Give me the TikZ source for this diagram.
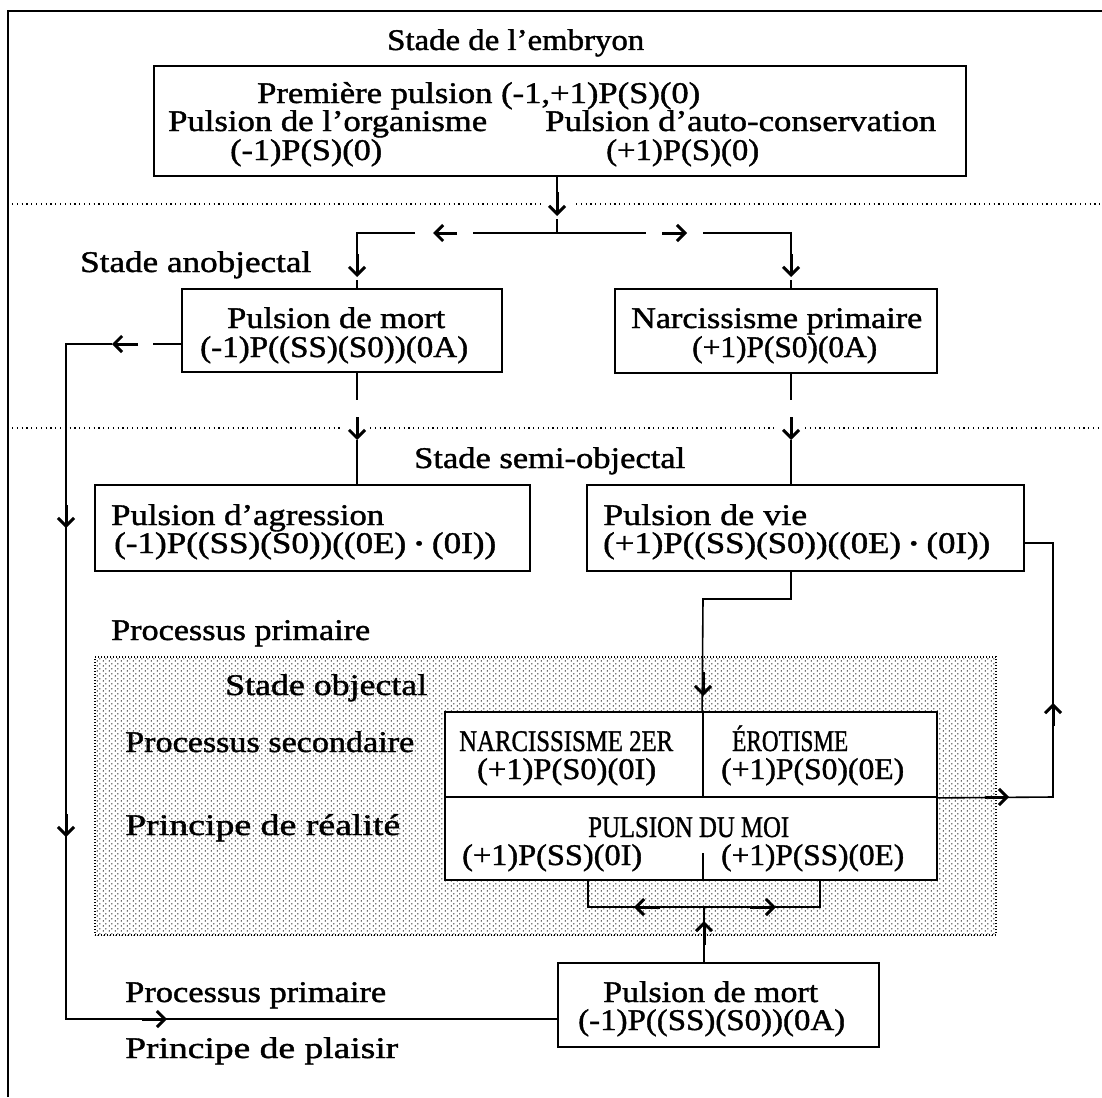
\documentclass[tikz,border=0pt]{standalone}
\usepackage{fontspec}
\setmainfont{Liberation Serif}[FakeBold=1.2]
\usepackage{graphicx}
\usetikzlibrary{arrows.meta,patterns.meta}
\tikzdeclarepattern{
  name=ndots,
  type=uncolored,
  bounding box={(0pt,0pt) and (6pt,5pt)},
  tile size={(6pt,5pt)},
  code={
    \fill (1.5pt,1.25pt) circle (0.8pt);
    \fill (4.5pt,3.75pt) circle (0.8pt);
  }
}
\newcommand\tw[2]{\resizebox{#1pt}{\height}{#2}}
\newcommand\bul{\raisebox{3pt}{\fontsize{20}{20}\selectfont •}}
\begin{document}
\begin{tikzpicture}[x=1pt,y=-1pt,
  bx/.style 2 args={draw,line width=1.8pt,fill=white,inner sep=0pt,minimum width=#1pt,minimum height=#2pt},
  t/.style={inner sep=0pt,anchor=base west,font=\fontsize{30}{30}\selectfont},
  conn/.style={line width=1.6pt},
  glyph/.style={line width=3pt,-{Straight Barb[length=8pt,width=16pt,line width=3pt]}},
  sepl/.style={line width=1.2pt,dash pattern=on 1.2pt off 3.6pt},
  shadebox/.style={pattern={ndots},pattern color=black,draw,line width=1.2pt,dash pattern=on 1pt off 2pt,inner sep=0pt,minimum width=901pt,minimum height=278pt}]
\useasboundingbox (0,0) rectangle (1102,1097);
\fill[white] (0,0) rectangle (1102,1097);

% column / row helpers
\coordinate (xM) at (557,0);
\coordinate (xL) at (357,0);
\coordinate (xR) at (791,0);
\coordinate (xN) at (703,0);
\coordinate (xP) at (588,0);
\coordinate (xQ) at (820,0);
\coordinate (xB) at (704,0);
\coordinate (yK) at (0,344);
\coordinate (yL) at (0,1019);
\coordinate (yV) at (0,543);

% frame
\draw[conn] (8,1097) -- (8,11) -- (1102,11);

% stage separators
\draw[sepl] (12,204) -- (543,204);
\draw[sepl] (576,204) -- (1102,204);
\draw[sepl] (12,428) -- (340,428);
\draw[sepl] (370,428) -- (775,428);
\draw[sepl] (805,428) -- (1102,428);

% shaded region
\node[shadebox] (S) at (545.5,796) {};

% boxes
\node[bx={812}{110}] (A) at (560,121) {};
\node[bx={320}{83}] (B1) at (342,330.5) {};
\node[bx={322}{84}] (B2) at (776,331) {};
\node[bx={435}{86}] (B3) at (312.5,528) {};
\node[bx={437}{86}] (B4) at (805.5,528) {};
\node[bx={258}{85}] (N2) at (574,754.5) {};
\node[bx={234}{85}] (ER) at (820,754.5) {};
\node[bx={492}{83}] (MOI) at (691,838.5) {};
\node[bx={321}{84}] (B5) at (718.5,1005) {};

% A -> split
\draw[conn] (A.south -| xM) -- (557,200);
\draw[glyph] (557,192) -- (557,216);
\draw[conn] (557,219) -- (557,233);
\draw[conn] (557,233) -- (473,233);
\draw[glyph] (457,233) -- (433,233);
\draw[conn] (415,233) -| (357,262);
\draw[glyph] (357,254) -- (357,277);
\draw[conn] (357,280) -- (B1.north -| xL);
\draw[conn] (557,233) -- (646,233);
\draw[glyph] (662,233) -- (687,233);
\draw[conn] (703,233) -| (791,262);
\draw[glyph] (791,254) -- (791,277);
\draw[conn] (791,280) -- (B2.north -| xR);

% B1 -> B3, B2 -> B4
\draw[conn] (B1.south -| xL) -- (357,400);
\draw[glyph] (357,417) -- (357,440);
\draw[conn] (357,440) -- (B3.north -| xL);
\draw[conn] (B2.south -| xR) -- (791,400);
\draw[glyph] (791,417) -- (791,440);
\draw[conn] (791,440) -- (B4.north -| xR);

% B1 -> long left path -> B5
\draw[conn] (B1.west |- yK) -- (153,344);
\draw[glyph] (138,344) -- (112,344);
\draw[conn] (112,344) -| (66,1019) -- (B5.west |- yL);
\draw[glyph] (66,505) -- (66,528);
\draw[glyph] (66,814) -- (66,837);
\draw[glyph] (142,1019) -- (167,1019);

% B4 -> N2/ER
\draw[conn] (B4.south -| xR) -- (791,599) -- (703,599) -- (ER.north west);
\draw[glyph] (703,672) -- (703,696);

% ER -> loop back to B4
\draw[conn] (ER.south east) -- (1053,797) -- (1053,543) -- (B4.east |- yV);
\draw[glyph] (985,797) -- (1009,797);
\draw[glyph] (1053,726) -- (1053,703);

% MOI divider
\draw[conn] (703,853) -- (MOI.south -| xN);

% B5 -> MOI
\draw[conn] (B5.north -| xB) -- (704,907);
\draw[conn] (MOI.south -| xP) -- (588,907) -- (820,907) -- (MOI.south -| xQ);
\draw[glyph] (704,945) -- (704,921);
\draw[glyph] (660,907) -- (634,907);
\draw[glyph] (750,907) -- (776,907);

% texts
\node[t] (title) at (387,50) {\tw{257}{Stade de l'embryon}};
\node[t] (a1) at (257,103) {\tw{443}{Première pulsion (-1,+1)P(S)(0)}};
\node[t] (a2) at (168,131) {\tw{319}{Pulsion de l'organisme}};
\node[t] (a3) at (545,131) {\tw{391}{Pulsion d'auto-conservation}};
\node[t] (a4) at (230,160) {\tw{152}{(-1)P(S)(0)}};
\node[t] (a5) at (606,160) {\tw{153}{(+1)P(S)(0)}};
\node[t] (anob) at (80,272) {\tw{231}{Stade anobjectal}};
\node[t] (b11) at (227,328) {\tw{218}{Pulsion de mort}};
\node[t] (b12) at (200,357) {\tw{268}{(-1)P((SS)(S0))(0A)}};
\node[t] (b21) at (631,328) {\tw{291}{Narcissisme primaire}};
\node[t] (b22) at (692,357) {\tw{185}{(+1)P(S0)(0A)}};
\node[t] (semi) at (414,468) {\tw{271}{Stade semi-objectal}};
\node[t] (b31) at (111,525) {\tw{273}{Pulsion d'agression}};
\node[t] (b32) at (114,553) {\tw{382}{(-1)P((SS)(S0))((0E) \bul{} (0I))}};
\node[t] (b41) at (603,525) {\tw{204}{Pulsion de vie}};
\node[t] (b42) at (603,553) {\tw{387}{(+1)P((SS)(S0))((0E) \bul{} (0I))}};
\node[t] (pp1) at (111,640) {\tw{259}{Processus primaire}};
\node[t] (obj) at (225,695) {\tw{202}{Stade objectal}};
\node[t] (psec) at (125,752) {\tw{289}{Processus secondaire}};
\node[t] (preal) at (125,835) {\tw{275}{Principe de réalité}};
\node[t] (n1) at (459,751) {\tw{214}{NARCISSISME 2ER}};
\node[t] (n2) at (477,779) {\tw{179}{(+1)P(S0)(0I)}};
\node[t] (e1) at (732,751) {\tw{116}{ÉROTISME}};
\node[t] (e2) at (721,779) {\tw{183}{(+1)P(S0)(0E)}};
\node[t] (m1) at (588,837) {\tw{201}{PULSION DU MOI}};
\node[t] (m2) at (462,865) {\tw{180}{(+1)P(SS)(0I)}};
\node[t] (m3) at (721,865) {\tw{183}{(+1)P(SS)(0E)}};
\node[t] (c1) at (603,1002) {\tw{215}{Pulsion de mort}};
\node[t] (c2) at (578,1030) {\tw{267}{(-1)P((SS)(S0))(0A)}};
\node[t] (pp2) at (125,1002) {\tw{261}{Processus primaire}};
\node[t] (plai) at (125,1058) {\tw{273}{Principe de plaisir}};
\end{tikzpicture}
\end{document}
